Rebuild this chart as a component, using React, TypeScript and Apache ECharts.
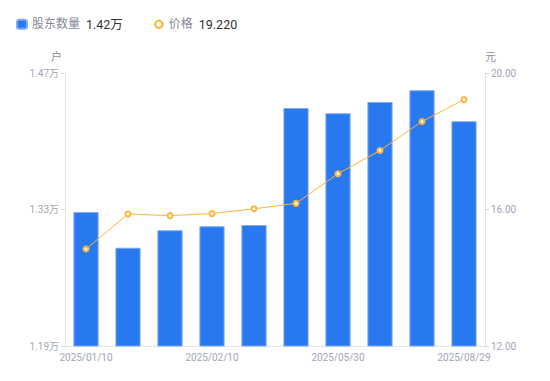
import React, { useEffect, useRef } from "react";
import * as echarts from "echarts";

const categories = [
  "2025/01/10", "2025/01/20", "2025/01/27", "2025/02/10", "2025/02/28",
  "2025/03/31", "2025/05/30", "2025/06/30", "2025/07/31", "2025/08/29",
];
const holders = [1.3274, 1.2908, 1.3087, 1.3128, 1.3141, 1.4341, 1.4287, 1.4403, 1.4523, 1.4205];
const prices = [14.84, 15.87, 15.82, 15.88, 16.02, 16.18, 17.05, 17.73, 18.58, 19.22];
const legendValues: Record<string, string> = { 股东数量: "1.42万", 价格: "19.220" };

export default function App() {
  const ref = useRef<HTMLDivElement>(null);
  useEffect(() => {
    if (!ref.current) return;
    const chart = echarts.init(ref.current, undefined, { renderer: "svg" });
    const axisLabelColor = "#a3a6b8";
    chart.setOption({
      animation: false,
      textStyle: { fontFamily: "Roboto, 'Noto Sans CJK SC', sans-serif" },
      legend: {
        left: 16,
        top: 18,
        padding: 0,
        itemWidth: 10,
        itemHeight: 9,
        itemGap: 30,
        data: [
          { name: "股东数量", icon: "roundRect" },
          { name: "价格" },
        ],
        formatter: (name: string) => `{n|${name}}  {v|${legendValues[name]}}`,
        textStyle: {
          rich: {
            n: { fontSize: 12, color: "#858897" },
            v: { fontSize: 12.5, color: "#333" },
          },
        },
      },
      grid: { left: 65, right: 65, top: 73, bottom: 35, containLabel: false },
      xAxis: {
        type: "category",
        data: categories,
        axisLine: { lineStyle: { color: "#e3e3e8" } },
        axisTick: { show: false },
        axisLabel: { color: axisLabelColor, fontSize: 10, interval: 2, margin: 6 },
      },
      yAxis: [
        {
          type: "value",
          name: "户",
          nameGap: 10,
          nameTextStyle: { color: "#8a8d9c", fontSize: 11, align: "right", padding: [0, 3, 0, 0] },
          min: 1.19,
          max: 1.47,
          interval: 0.14,
          splitLine: { show: false },
          axisLine: { show: true, lineStyle: { color: "#e3e3e8" } },
          axisTick: { show: true, length: 4, lineStyle: { color: "#d8d8de" } },
          axisLabel: {
            color: axisLabelColor,
            fontSize: 10,
            margin: 6,
            formatter: (v: number) => v.toFixed(2) + "万",
          },
        },
        {
          type: "value",
          name: "元",
          nameGap: 10,
          nameTextStyle: { color: "#8a8d9c", fontSize: 11, align: "left", padding: [0, 0, 0, 0] },
          min: 12,
          max: 20,
          interval: 4,
          splitLine: { show: false },
          axisLine: { show: true, lineStyle: { color: "#e3e3e8" } },
          axisTick: { show: true, length: 4, lineStyle: { color: "#d8d8de" } },
          axisLabel: {
            color: axisLabelColor,
            fontSize: 10,
            margin: 6,
            formatter: (v: number) => v.toFixed(2),
          },
        },
      ],
      series: [
        {
          name: "股东数量",
          type: "bar",
          data: holders,
          yAxisIndex: 0,
          barWidth: "60%",
          itemStyle: { color: "#2878f0", borderColor: "#7fa9f2", borderWidth: 1 },
        },
        {
          name: "价格",
          type: "line",
          data: prices,
          yAxisIndex: 1,
          symbol: "emptyCircle",
          symbolSize: 5,
          lineStyle: { color: "#ffb43c", width: 1 },
          itemStyle: { color: "#ffb43c", borderWidth: 2 },
        },
      ],
    });
    return () => chart.dispose();
  }, []);
  return <div ref={ref} style={{ width: 550, height: 381, position: "absolute", left: 0, top: 0 }} />;
}
